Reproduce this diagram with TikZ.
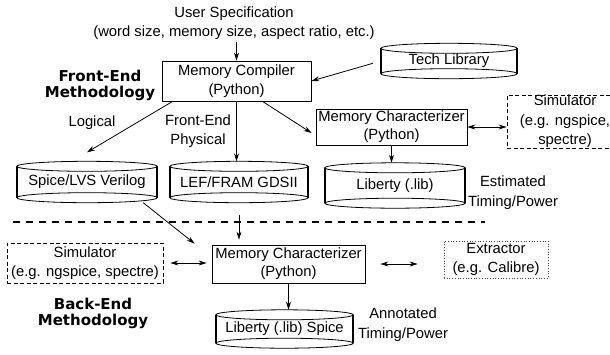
\documentclass[tikz,border=0pt]{standalone}
\usepackage{fontspec}
\setmainfont{Liberation Sans}
\newfontfamily\headfont{DejaVu Sans}
\usetikzlibrary{arrows.meta,calc}

\begin{document}
\begin{tikzpicture}[x=1pt,y=-1pt,
    every node/.style={font=\fontsize{14.8}{19.5}\selectfont, align=center, inner sep=0pt},
    box/.style={draw, line width=0.8pt},
    simbox/.style={box, dash pattern=on 4pt off 2.5pt},
    toolbox/.style={draw=black!70, line width=0.7pt, dotted},
    drum/.style={},
    tag/.style={font=\fontsize{15}{16}\selectfont\headfont\bfseries},
    flow/.style={-{Stealth[length=8pt,width=5pt]}, line width=0.8pt},
    both/.style={{Stealth[length=8pt,width=5pt]}-{Stealth[length=8pt,width=5pt]}, line width=0.8pt}]
  \useasboundingbox (0,0) rectangle (610,354);

  % front end
  \node (spec) at (234,23) {User Specification\\(word size, memory size, aspect ratio, etc.)};
  \node[box, minimum width=149pt, minimum height=40pt] (comp) at (236.5,81) {Memory Compiler\\(Python)};
  \node[drum, minimum width=136pt, minimum height=35pt] (tech) at (449,61) {Tech Library};
  \node[tag] (front) at (100,85) {Front-End\\Methodology};
  \node (logic) at (92,123) {Logical};
  \node (phys) at (198,131) {Front-End\\Physical};
  \node[box, minimum width=151pt, minimum height=36pt, font=\fontsize{14.8}{18}\selectfont] (charF) at (391.5,127) {Memory Characterizer\\(Python)};
  \node[simbox, minimum width=116pt, minimum height=53pt] (simF) at (565,121.5) {Simulator\\(e.g. ngspice,\\spectre)};
  \node[drum, minimum width=140pt, minimum height=41pt] (spice) at (87,182) {Spice/LVS Verilog};
  \node[drum, minimum width=138pt, minimum height=41pt] (lef) at (239,182) {LEF/FRAM GDSII};
  \node[drum, minimum width=140pt, minimum height=45pt] (libF) at (395,185.5) {Liberty (.lib)};
  \node (est) at (513,192.5) {Estimated\\Timing/Power};

  % divider
  \coordinate (cutL) at (13,222);
  \coordinate (cutR) at (485,222);
  \draw[line width=1.3pt, dash pattern=on 7pt off 6pt] (cutL) -- (cutR);

  % back end
  \node[box, minimum width=153pt, minimum height=38pt, font=\fontsize{14.8}{18}\selectfont] (charB) at (288.5,264) {Memory Characterizer\\(Python)};
  \node[simbox, minimum width=156pt, minimum height=40pt] (simB) at (85,263) {Simulator\\(e.g. ngspice, spectre)};
  \node[toolbox, minimum width=104pt, minimum height=37pt] (extr) at (496,259.5) {Extractor\\(e.g. Calibre)};
  \node[drum, minimum width=137pt, minimum height=38pt] (libB) at (284.5,329) {Liberty (.lib) Spice};
  \node (ann) at (403,324.5) {Annotated\\Timing/Power};
  \node[tag] (back) at (93,313) {Back-End\\Methodology};

  % drums
  \foreach \d in {tech,spice,lef,libF,libB}{
    \draw[line width=0.8pt] let \p1=($(\d.east)-(\d.west)$) in
      ($(\d.north)+(0,5)$) ellipse [x radius=0.5*\x1, y radius=5pt]
      ($(\d.south)+(0,-5)$) ellipse [x radius=0.5*\x1, y radius=5pt];
    \draw[line width=2pt] ($(\d.north west)+(0,5)$) -- ($(\d.south west)+(0,-5)$)
      ($(\d.north east)+(0,5)$) -- ($(\d.south east)+(0,-5)$);
  }

  % connectors
  \draw[flow, shorten <=2pt] (spec.south -| comp.north) -- (comp.north);
  \draw[flow, shorten <=8pt] (tech.west) -- (comp.east);
  \draw[flow] ([xshift=11pt]comp.south west) -- ([yshift=9pt]spice.north);
  \draw[flow] (comp.south) -- (comp.south |- lef.north);
  \draw[flow] ([xshift=26pt]comp.south) -- ([xshift=-4pt,yshift=-6pt]charF.west);
  \draw[both] (charF.east) -- (charF.east -| simF.west);
  \draw[flow] (charF.south) -- (charF.south |- libF.north);
  \draw[flow] ([xshift=-14pt]spice.south east) -- ([xshift=-17pt,yshift=1pt]charB.north west);
  \draw[flow] ([yshift=-12pt]lef.south) -- ($(lef.south |- charB.north)+(0,-5)$);
  \draw[both, shorten <=7pt, shorten >=5pt] (simB.east) -- (simB.east -| charB.west);
  \draw[both, shorten <=15pt, shorten >=26pt] (charB.east) -- (charB.east -| extr.west);
  \draw[flow] (charB.south) -- (charB.south |- libB.north);
\end{tikzpicture}
\end{document}
